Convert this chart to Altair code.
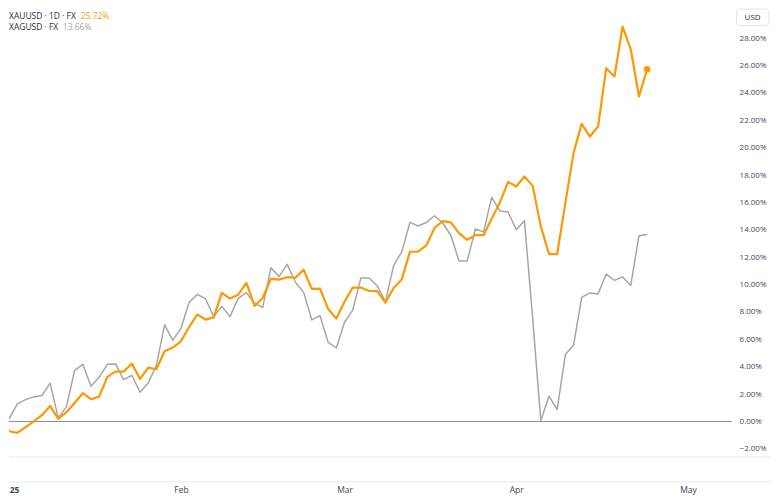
import altair as alt
import pandas as pd

# ---- data (percent change since first bar, daily bars) ----
gold = [0.0, -0.71, -0.83, -0.41, 0.02, 0.46, 1.14, 0.2, 0.68, 1.36,
        2.07, 1.63, 1.82, 3.26, 3.65, 3.65, 4.23, 3.11, 3.94, 3.82,
        5.13, 5.4, 5.86, 6.9, 7.82, 7.44, 7.61, 9.39, 8.98, 9.26,
        10.12, 8.44, 9.02, 10.42, 10.36, 10.54, 10.5, 11.09, 9.69, 9.7,
        8.22, 7.52, 8.75, 9.78, 9.78, 9.53, 9.52, 8.68, 9.75, 10.38,
        12.4, 12.4, 12.86, 14.13, 14.63, 14.54, 13.76, 13.27, 13.61, 13.61,
        14.82, 16.0, 17.5, 17.16, 17.9, 17.21, 14.25, 12.23, 12.23, 15.95,
        19.6, 21.74, 20.81, 21.54, 25.8, 25.19, 28.83, 27.18, 23.73, 25.72]
silver = [0.0, 0.22, 1.29, 1.6, 1.8, 1.9, 2.8, 0.27, 1.07, 3.74,
          4.18, 2.57, 3.23, 4.18, 4.21, 3.06, 3.38, 2.14, 2.82, 4.1,
          7.07, 5.93, 6.8, 8.7, 9.28, 8.97, 7.66, 8.41, 7.66, 9.0,
          9.41, 8.63, 8.33, 11.23, 10.6, 11.48, 10.17, 9.43, 7.42, 7.73,
          5.78, 5.37, 7.25, 8.14, 10.48, 10.48, 9.92, 8.73, 11.39, 12.4,
          14.54, 14.28, 14.53, 15.03, 14.5, 13.6, 11.72, 11.72, 14.06, 13.85,
          16.37, 15.37, 15.3, 14.0, 14.67, 7.6, 0.05, 1.85, 0.88, 4.89,
          5.57, 9.07, 9.39, 9.31, 10.77, 10.31, 10.55, 9.94, 13.57, 13.66]
series_names = ["XAUUSD · 1D · FX", "XAGUSD · FX"]
series_colors = ["#ff9800", "#a6a6a6"]
tick_idx = [1, 22, 42, 63, 84]
tick_labels = ["25", "Feb", "Mar", "Apr", "May"]
y_ticks = list(range(-2, 30, 2))
currency = "USD"

# ---- layout ----
W, H = 719, 449
x_dom = [8 / 8.2, 727 / 8.2]
y_dom = [-2.55, 30.15]
FONT = "Open Sans"
TXT = "#2a2e39"

df_gold = pd.DataFrame({"idx": list(range(len(gold))), "pct": gold})
df_silver = pd.DataFrame({"idx": list(range(len(silver))), "pct": silver})
df_last = df_gold.tail(1)
blank = alt.Data(values=[{}])

xscale = alt.Scale(domain=x_dom, nice=False, zero=False)
yscale = alt.Scale(domain=y_dom, nice=False, zero=False)

label_expr = ""
for v, t in zip(tick_idx, tick_labels):
    label_expr += f"datum.value == {v} ? '{t}' : "
label_expr += "''"

x_axis = alt.Axis(
    values=tick_idx, labelExpr=label_expr, orient="bottom", domain=False,
    ticks=False, tickSize=0, grid=False, title=None, labelPadding=33,
    labelBaseline="middle", labelFontSize=8.5, labelFont=FONT, labelColor="#434651",
    labelFlush=False, labelOverlap=False,
    labelAlign={"condition": {"test": "datum.value < 5", "value": "left"}, "value": "center"},
    labelFontWeight={"condition": {"test": "datum.value < 5", "value": "bold"}, "value": "normal"},
)
y_axis = alt.Axis(
    values=y_ticks, labelExpr="format(datum.value, '.2f') + '%'", orient="right",
    domain=False, ticks=False, tickSize=0, grid=False, title=None, labelPadding=13,
    labelAlign="left", labelBaseline="middle", labelFontSize=8, labelFont=FONT,
    labelColor="#434651", labelOverlap=False,
)

X = alt.X("idx:Q", scale=xscale, axis=x_axis)
Y = alt.Y("pct:Q", scale=yscale, axis=y_axis)

bottom_rules = alt.layer(
    alt.Chart(blank).mark_rule(color="#e6e8ee", strokeWidth=1).encode(
        x=alt.value(0), x2=alt.value(764), y=alt.value(449.5)),
    alt.Chart(blank).mark_rule(color="#e6e8ee", strokeWidth=1).encode(
        x=alt.value(0), x2=alt.value(764), y=alt.value(474.5)),
)

zero_rule = alt.Chart(blank).mark_rule(color="#8c8f99", strokeWidth=1).encode(
    x=alt.value(0), x2=alt.value(725), y=alt.datum(0, scale=yscale, axis=y_axis))

silver_line = alt.Chart(df_silver).mark_line(
    color=series_colors[1], strokeWidth=1.5, clip=True, strokeJoin="round").encode(x=X, y=Y)
gold_line = alt.Chart(df_gold).mark_line(
    color=series_colors[0], strokeWidth=2.2, clip=True, strokeJoin="round").encode(x=X, y=Y)
gold_dot = alt.Chart(df_last).mark_circle(
    color=series_colors[0], size=42, opacity=1).encode(x=X, y=Y)

legend_layers = []
name_y = [7.7, 18.7]
val_x = [72, 54]
lasts = [gold[-1], silver[-1]]
for i in range(2):
    legend_layers.append(
        alt.Chart(blank).mark_text(
            text=series_names[i], align="left", baseline="middle", fontSize=8.5,
            font=FONT, color=TXT).encode(
            x=alt.value(0), y=alt.value(name_y[i])))
    legend_layers.append(
        alt.Chart(blank).mark_text(
            text=f"{lasts[i]:.2f}%", align="left", baseline="middle", fontSize=8.5,
            font=FONT, color=series_colors[i]).encode(
            x=alt.value(val_x[i]), y=alt.value(name_y[i])))

usd_box = alt.Chart(blank).mark_rect(
    fill="white", stroke="#e0e3eb", strokeWidth=1, cornerRadius=3).encode(
    x=alt.value(729.5), x2=alt.value(762), y=alt.value(0.5), y2=alt.value(17))
usd_text = alt.Chart(blank).mark_text(
    text=currency, align="center", baseline="middle", fontSize=8, font=FONT,
    color=TXT).encode(x=alt.value(745.5), y=alt.value(9))

chart = alt.layer(
    bottom_rules, zero_rule, silver_line, gold_line, gold_dot,
    *legend_layers, usd_box, usd_text,
).properties(
    width=W, height=H, padding=0, background="white",
).configure_view(stroke=None)

chart.save("out.html", embed_options={"renderer": "svg", "actions": False})
